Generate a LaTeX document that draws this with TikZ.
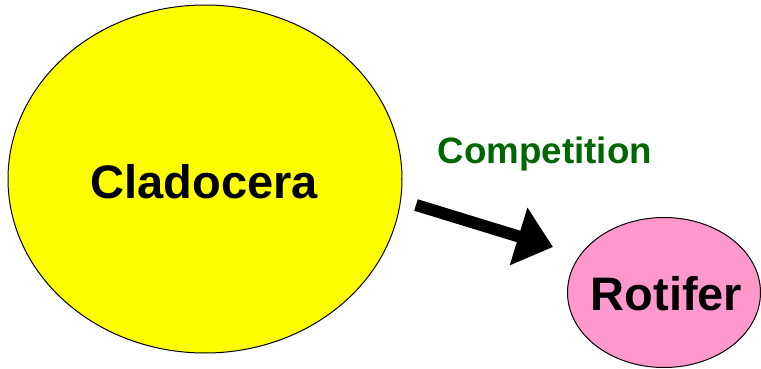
\documentclass[tikz,border=0pt]{standalone}
\usepackage{fontspec}
\setmainfont{Liberation Sans}
\usetikzlibrary{shapes.geometric,arrows.meta}
\definecolor{cyel}{RGB}{255,255,0}
\definecolor{cpink}{RGB}{255,153,204}
\definecolor{cgreen}{RGB}{0,102,0}
\begin{document}
\begin{tikzpicture}[x=1pt,y=-1pt,
  blob/.style={ellipse,draw=black,line width=1pt,inner sep=0pt},
  lbl/.style={font=\bfseries\fontsize{47}{47}\selectfont,anchor=base},
]
\useasboundingbox (0,0) rectangle (761,369);
\node[blob,fill=cyel,minimum width=394pt,minimum height=348pt] (clad) at (205,179) {};
\node[blob,fill=cpink,minimum width=193pt,minimum height=150pt] (rot) at (664,292.5) {};
\node[lbl] (cladt) at (204.5,198) {Cladocera};
\node[lbl] (rott) at (666.5,310) {Rotifer};
\node[anchor=base,text=cgreen,font=\bfseries\fontsize{36.7}{36.7}\selectfont] (comp) at (545,163) {Competition};
\coordinate (as) at (416,205);
\coordinate (ae) at (553,247);
\draw[line width=12pt,-{Triangle[length=36pt,width=58pt]}] (as) -- (ae);
\end{tikzpicture}
\end{document}
